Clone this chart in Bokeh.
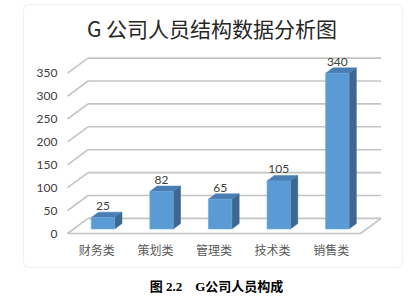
from bokeh.plotting import figure
from bokeh.models import Range1d, Label, BoxAnnotation, ColumnDataSource
from bokeh.core.properties import value
from bokeh.embed import file_html
from bokeh.resources import INLINE

# ---- data ----
categories = ["财务类", "策划类", "管理类", "技术类", "销售类"]
values = [25, 82, 65, 105, 340]
y_ticks = [0, 50, 100, 150, 200, 250, 300, 350]
title_text = "G 公司人员结构数据分析图"
caption_text = "图 2.2　G公司人员构成"

# ---- canvas / scale (frame covers whole canvas) ----
W, H = 418, 303
PX_PER_CAT = 58.6      # pixels per category
PX_PER_VAL = 0.458     # pixels per value unit
X0_PX = 96.3           # pixel x of first category (front plane)
Y0_PX = 233.0          # pixel y of value 0 (front plane)

def sx(px):
    return (px - X0_PX) / PX_PER_CAT

def sy(py):
    return (Y0_PX - py) / PX_PER_VAL

# ---- 3D style constants (data units) ----
DX = 0.35      # depth shift along x (category units)
DY = 33.0      # depth shift along y (value units)
F0 = 0.30      # bar front face depth fraction
FD = 0.356     # bar depth fraction
BW = 0.40      # bar width (category units)
GRID = "#C4C4C4"
FRONT = "#5B9BD5"
TOP = "#4A7DB3"
SIDE = "#3D6791"
TXT = "#404040"

n = len(categories)
xs = list(range(n))

p = figure(width=W, height=H, output_backend="svg", toolbar_location=None,
           x_range=Range1d(sx(0), sx(W)), y_range=Range1d(sy(H), sy(0)),
           min_border=0, title=None, x_axis_location=None, y_axis_location=None)
p.outline_line_color = None
p.xgrid.visible = False
p.ygrid.visible = False
p.background_fill_color = "white"
p.border_fill_color = "white"

# ---- chart border ----
p.add_layout(BoxAnnotation(left=23, right=402, top=H - 4, bottom=H - 267,
                           left_units="screen", right_units="screen",
                           top_units="screen", bottom_units="screen",
                           fill_alpha=0, line_color="#D0D4D8", line_width=1.2,
                           border_radius=5, level="underlay"))

# ---- walls / floor ----
x_left = -0.5
x_right = n - 0.5
p.segment(x0=[x_left + DX] * len(y_ticks), y0=[t + DY for t in y_ticks],
          x1=[x_right + DX] * len(y_ticks), y1=[t + DY for t in y_ticks],
          line_color=GRID, line_width=1.6)
p.segment(x0=[x_left] * len(y_ticks), y0=y_ticks,
          x1=[x_left + DX] * len(y_ticks), y1=[t + DY for t in y_ticks],
          line_color=GRID, line_width=1.6)
p.line(x=[x_left, x_right, x_right + DX], y=[0, 0, DY], line_color=GRID, line_width=1.6)

# ---- bars ----
fl = [i + F0 * DX - BW / 2 for i in xs]
fr = [i + F0 * DX + BW / 2 for i in xs]
fb = [F0 * DY] * n
ft = [F0 * DY + v for v in values]
ddx = FD * DX
ddy = FD * DY

side_xs = [[fr[k], fr[k] + ddx, fr[k] + ddx, fr[k]] for k in range(n)]
side_ys = [[fb[k], fb[k] + ddy, ft[k] + ddy, ft[k]] for k in range(n)]
top_xs = [[fl[k], fr[k], fr[k] + ddx, fl[k] + ddx] for k in range(n)]
top_ys = [[ft[k], ft[k], ft[k] + ddy, ft[k] + ddy] for k in range(n)]

p.patches(xs=side_xs, ys=side_ys, fill_color=SIDE, line_color=SIDE, line_width=0.5)
p.patches(xs=top_xs, ys=top_ys, fill_color=TOP, line_color=TOP, line_width=0.5)
p.quad(left=fl, right=fr, bottom=fb, top=ft, fill_color=FRONT, line_color="#6AA6DC", line_width=0.6)

# ---- value labels ----
src = ColumnDataSource(dict(x=[i + F0 * DX for i in xs],
                            y=[t + ddy + 4.5 for t in ft],
                            t=[str(v) for v in values]))
p.text(x="x", y="y", text="t", source=src, text_align="center", text_baseline="bottom",
       text_font_size="12px", text_color=TXT, text_font=value("Lato"))

# ---- y tick labels (front plane) ----
ysrc = ColumnDataSource(dict(x=[x_left - 10 / PX_PER_CAT] * len(y_ticks), y=y_ticks,
                             t=[str(t) for t in y_ticks]))
p.text(x="x", y="y", text="t", source=ysrc, text_align="right", text_baseline="middle",
       text_font_size="12px", text_color=TXT, text_font=value("Lato"))

# ---- category labels ----
csrc = ColumnDataSource(dict(x=xs, y=[-16 / PX_PER_VAL] * n, t=categories))
p.text(x="x", y="y", text="t", source=csrc, text_align="center", text_baseline="middle",
       text_font_size="12px", text_color="#595959", text_font=value("Noto Sans CJK SC"))

# ---- title and caption ----
p.add_layout(Label(x=211.5, y=H - 27.5, x_units="screen", y_units="screen", text=title_text,
                   text_align="center", text_baseline="middle",
                   text_font="Noto Sans CJK SC", text_font_size="21px", text_color="#262626"))
p.add_layout(Label(x=216, y=H - 286, x_units="screen", y_units="screen", text=caption_text,
                   text_align="center", text_baseline="middle",
                   text_font="Liberation Serif, Noto Sans CJK SC", text_font_style="bold",
                   text_font_size="13px", text_color="#000000"))

open("out.html", "w").write(file_html(p, INLINE))
